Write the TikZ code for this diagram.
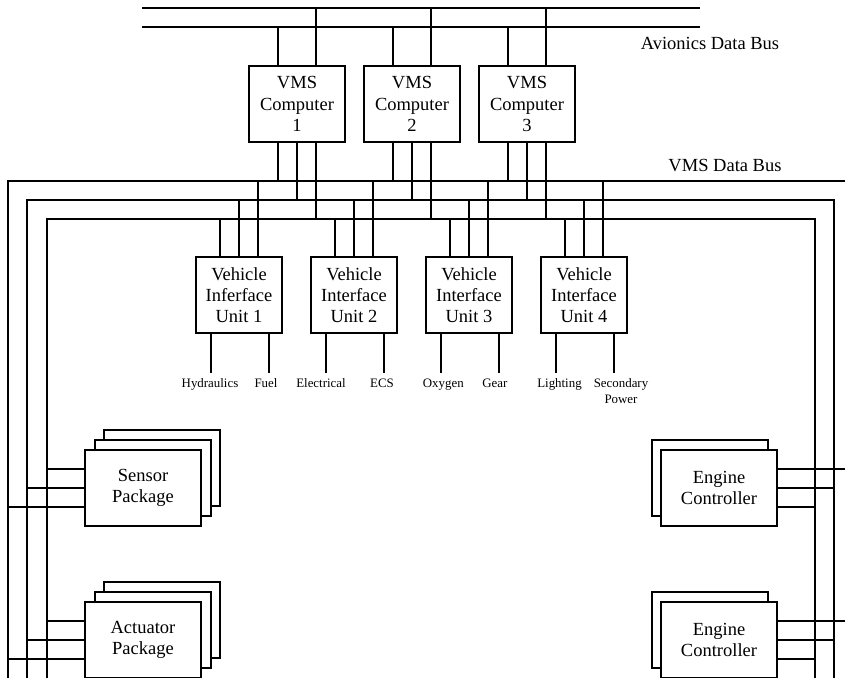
\documentclass[tikz,border=0pt]{standalone}
\usepackage{fontspec}
\setmainfont{Liberation Serif}
\usetikzlibrary{calc,positioning}

\begin{document}
\begin{tikzpicture}[x=0.5pt, y=-0.5pt, line width=1pt, every node/.style={font=\fontsize{9.25}{10.6}\selectfont}]
\tikzset{box/.style={draw, line width=1pt, fill=white, align=center, inner sep=0pt}}
\tikzset{vms/.style={box, minimum width=48pt, minimum height=38pt}}
\tikzset{viu/.style={box, minimum width=43pt, minimum height=38pt}}
\tikzset{pkg/.style={box, minimum width=58pt, minimum height=38pt}}
\tikzset{sub/.style={font=\fontsize{6.45}{8}\selectfont, anchor=base, align=center, inner sep=0pt}}
\useasboundingbox (0,0) rectangle (845,678);
\clip (0,0) rectangle (845,678);
\coordinate (au) at (142,8); \coordinate (al) at (142,27);
\coordinate (lo) at (8,181); \coordinate (lm) at (27,200); \coordinate (li) at (47,219);
\coordinate (ro) at (853,181); \coordinate (rm) at (834,200); \coordinate (ri) at (815,219);
\coordinate (bot) at (0,700); \coordinate (tip) at (0,373);
\draw (au) -- ++(558,0);
\draw (al) -- ++(558,0);
\draw (lo |- bot) -- (lo) -- (ro) -- (ro |- bot);
\draw (lm |- bot) -- (lm) -- (rm) -- (rm |- bot);
\draw (li |- bot) -- (li) -- (ri) -- (ri |- bot);
\node (avb) at (710,50) [anchor=base] {Avionics Data Bus};
\node (vmsb) at (725,171.7) [anchor=base] {VMS Data Bus};
\foreach \i/\x in {1/297,2/412,3/527}{
  \node[vms] (v\i) at (\x,104) {VMS\\Computer\\\i};
  \draw ($(v\i.north)+(-19,0)$) coordinate (a) -- (a |- al);
  \draw ($(v\i.north)+(19,0)$) coordinate (a) -- (a |- au);
  \draw ($(v\i.south)+(-19,0)$) coordinate (a) -- (a |- lo);
  \draw (v\i.south) -- (v\i.south |- lm);
  \draw ($(v\i.south)+(19,0)$) coordinate (a) -- (a |- li);
}
\foreach \i/\x/\w in {1/239/Inferface,2/354/Interface,3/469/Interface,4/584/Interface}{
  \node[viu] (u\i) at (\x,295) {Vehicle\\\w\\Unit \i};
  \draw ($(u\i.north)+(-19,0)$) coordinate (a) -- (a |- li);
  \draw (u\i.north) -- (u\i.north |- lm);
  \draw ($(u\i.north)+(19,0)$) coordinate (a) -- (a |- lo);
  \draw ($(u\i.south)+(-28,0)$) coordinate (a) -- (a |- tip) coordinate (u\i a);
  \draw ($(u\i.south)+(30,0)$) coordinate (a) -- (a |- tip) coordinate (u\i b);
}
\node[sub] (hyd) at (210,387) {Hydraulics};
\node[sub] (fuel) at (266,387) {Fuel};
\node[sub] (elec) at (321,387) {Electrical};
\node[sub] (ecs) at (382,387) {ECS};
\node[sub] (oxy) at (443.3,387) {Oxygen};
\node[sub] (gear) at (494.8,387) {Gear};
\node[sub] (lgt) at (559.5,387) {Lighting};
\node[sub] (sec) at (621,403.3) {Secondary\\Power};
\node[pkg] (sp3) at (162,468) {};
\node[pkg] (sp2) at (153,478) {};
\node[pkg] (sp) at (143,488) {Sensor\\Package};
\node[pkg] (ap3) at (162,620) {};
\node[pkg] (ap2) at (153,630) {};
\node[pkg] (ap) at (143,640) {Actuator\\Package};
\node[pkg] (ec1b) at (710,478) {};
\node[pkg] (ec1) at (719,488) {Engine\\Controller};
\node[pkg] (ec2b) at (710,630) {};
\node[pkg] (ec2) at (719,640) {Engine\\Controller};
\foreach \p in {sp,ap}{
  \draw ($(\p.west)+(0,-19)$) coordinate (a) -- (a -| li);
  \draw (\p.west) -- (\p.west -| lm);
  \draw ($(\p.west)+(0,19)$) coordinate (a) -- (a -| lo);
}
\foreach \p in {ec1,ec2}{
  \draw ($(\p.east)+(0,-19)$) coordinate (a) -- (a -| ro);
  \draw (\p.east) -- (\p.east -| rm);
  \draw ($(\p.east)+(0,19)$) coordinate (a) -- (a -| ri);
}
\end{tikzpicture}
\end{document}
